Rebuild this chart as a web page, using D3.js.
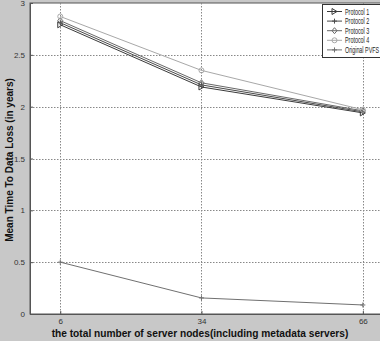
<!DOCTYPE html>
<html>
<head>
<meta charset="utf-8">
<script src="https://cdn.jsdelivr.net/npm/d3@7"></script>
<style>
  body { margin: 0; background: #c8c8c8; }
  svg { display: block; }
</style>
</head>
<body>
<div id="chart"></div>
<script>
// data
const nodes = [6, 34, 66];
const seriesNames = ["Protocol 1", "Protocol 2", "Protocol 3", "Protocol 4", "Original PVFS"];
const protocol1 = [2.79, 2.19, 1.94];
const protocol2 = [2.81, 2.21, 1.95];
const protocol3 = [2.83, 2.23, 1.96];
const protocol4 = [2.87, 2.35, 1.97];
const originalPVFS = [0.5, 0.155, 0.087];
const yTicks = [0, 0.5, 1, 1.5, 2, 2.5, 3];

const seriesValues = [protocol1, protocol2, protocol3, protocol4, originalPVFS];
const colors = ["#3a3a3a", "#4a4a4a", "#686868", "#a8a8a8", "#707070"];
const markers = ["tri", "plus", "diamond", "circle", "plus"];

const W = 380, H = 341;
const m = { left: 30, right: -3, top: 3, bottom: 27 };
const narrow = "'Liberation Sans', Arial, sans-serif";

const svg = d3.select("#chart").append("svg")
  .attr("width", W).attr("height", H);

const x = d3.scaleLinear().domain([0, 70]).range([m.left, W - m.right]);
const y = d3.scaleLinear().domain([0, 3]).range([H - m.bottom, m.top]);

// plot background
svg.append("rect")
  .attr("x", m.left).attr("y", m.top)
  .attr("width", W - m.right - m.left).attr("height", H - m.bottom - m.top)
  .attr("fill", "#fff").attr("stroke", "#555").attr("stroke-width", 1);

// grid
const grid = svg.append("g").attr("stroke", "#888").attr("stroke-dasharray", "1.5,1.5").attr("stroke-width", 1);
grid.selectAll(".gy").data(yTicks.filter(d => d > 0 && d < 3)).enter().append("line")
  .attr("x1", m.left).attr("x2", W - m.right)
  .attr("y1", d => Math.round(y(d)) + 0.5).attr("y2", d => Math.round(y(d)) + 0.5);
grid.selectAll(".gx").data(nodes).enter().append("line")
  .attr("y1", m.top).attr("y2", H - m.bottom)
  .attr("x1", d => Math.round(x(d)) + 0.5).attr("x2", d => Math.round(x(d)) + 0.5);

// axes
const xAxis = svg.append("g")
  .attr("transform", `translate(0,${H - m.bottom})`)
  .call(d3.axisBottom(x).tickValues(nodes).tickSize(-3).tickPadding(4));
const yAxis = svg.append("g")
  .attr("transform", `translate(${m.left},0)`)
  .call(d3.axisLeft(y).tickValues(yTicks).tickFormat(d3.format("")).tickSize(-3).tickPadding(5));
[xAxis, yAxis].forEach(a => {
  a.select(".domain").attr("stroke", "#555");
  a.selectAll(".tick line").attr("stroke", "#555");
  a.selectAll(".tick text").attr("font-size", 8).attr("font-family", narrow).attr("fill", "#333");
});

// series
const line = d3.line().x((d, i) => x(nodes[i])).y(d => y(d));

function drawMarker(g, type, cx, cy, color) {
  if (type === "tri") {
    g.append("path").attr("d", `M${cx - 2.5},${cy - 3}L${cx + 2.5},${cy}L${cx - 2.5},${cy + 3}Z`)
      .attr("fill", "none").attr("stroke", color);
  } else if (type === "plus") {
    g.append("path").attr("d", `M${cx - 2.5},${cy}H${cx + 2.5}M${cx},${cy - 2.5}V${cy + 2.5}`)
      .attr("stroke", color);
  } else if (type === "diamond") {
    g.append("path").attr("d", `M${cx},${cy - 3}L${cx + 2.5},${cy}L${cx},${cy + 3}L${cx - 2.5},${cy}Z`)
      .attr("fill", "none").attr("stroke", color);
  } else {
    g.append("circle").attr("cx", cx).attr("cy", cy).attr("r", 2.5)
      .attr("fill", "none").attr("stroke", color);
  }
}

seriesValues.forEach((vals, k) => {
  const g = svg.append("g");
  g.append("path").datum(vals).attr("d", line)
    .attr("fill", "none").attr("stroke", colors[k]).attr("stroke-width", 1);
  vals.forEach((v, i) => drawMarker(g, markers[k], x(nodes[i]), y(v), colors[k]));
});

// legend
const lg = svg.append("g").attr("transform", "translate(322,4)");
lg.append("rect").attr("x", 0.5).attr("y", 0.5).attr("width", 60).attr("height", 53)
  .attr("fill", "#fff").attr("stroke", "#333");
seriesNames.forEach((name, k) => {
  const yy = 7.5 + k * 9.6;
  lg.append("line").attr("x1", 5).attr("x2", 20).attr("y1", yy).attr("y2", yy).attr("stroke", colors[k]);
  drawMarker(lg, markers[k], 12.5, yy, colors[k]);
  lg.append("text")
    .attr("transform", `translate(23,${yy + 3}) scale(0.6,1)`)
    .attr("font-family", narrow)
    .attr("font-size", 9).attr("fill", "#222").text(name);
});

// titles
svg.append("text")
  .attr("transform", "translate(200,337) scale(0.97,1)")
  .attr("text-anchor", "middle")
  .attr("font-family", narrow)
  .attr("font-weight", "bold").attr("font-size", 10.5).attr("fill", "#111")
  .text("the total number of server nodes(including metadata servers)");

svg.append("text")
  .attr("transform", "translate(13,160) rotate(-90)")
  .attr("text-anchor", "middle")
  .attr("font-family", narrow)
  .attr("font-weight", "bold").attr("font-size", 10).attr("fill", "#111")
  .text("Mean Time To Data Loss (in years)");
</script>
</body>
</html>
